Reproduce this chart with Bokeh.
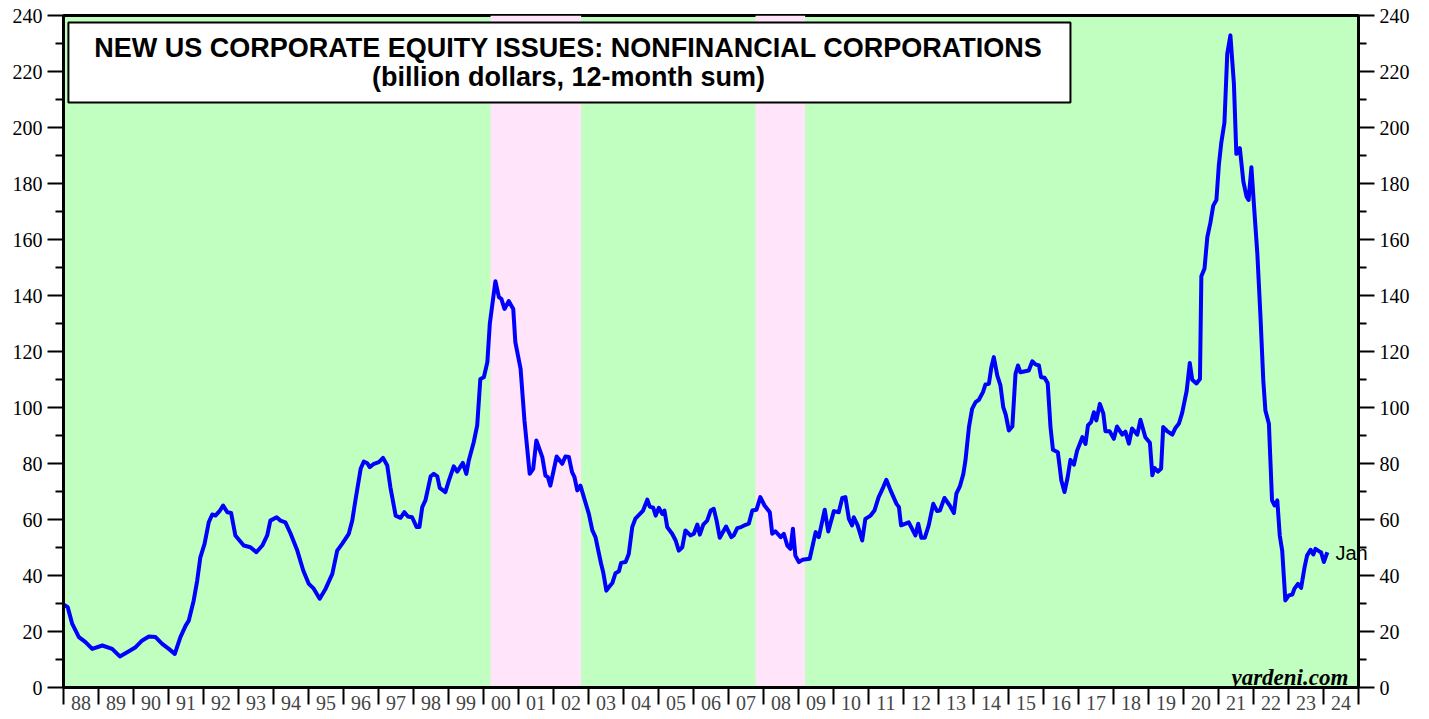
from bokeh.plotting import figure
from bokeh.models import Range1d, LinearAxis, FixedTicker, BoxAnnotation, Label, ColumnDataSource
from bokeh.embed import file_html
from bokeh.resources import INLINE

# ---- data (decimal year, billion dollars 12-month sum) ----
dates = [1988.01, 1988.12, 1988.25, 1988.44, 1988.63, 1988.82, 1989.11, 1989.39, 1989.61, 1989.82,
         1990.06, 1990.25, 1990.44, 1990.63, 1990.82, 1991.01, 1991.18, 1991.34, 1991.49, 1991.58,
         1991.72, 1991.82, 1991.91, 1992.03, 1992.15, 1992.25, 1992.34, 1992.47, 1992.56, 1992.68,
         1992.79, 1992.91, 1993.15, 1993.34, 1993.51, 1993.68, 1993.82, 1993.91, 1994.09, 1994.20,
         1994.34, 1994.49, 1994.68, 1994.85, 1995.01, 1995.15, 1995.32, 1995.49, 1995.68, 1995.82,
         1995.96, 1996.15, 1996.25, 1996.34, 1996.49, 1996.58, 1996.68, 1996.75, 1996.87, 1997.01,
         1997.13, 1997.25, 1997.34, 1997.49, 1997.63, 1997.74, 1997.84, 1997.96, 1998.09, 1998.17,
         1998.25, 1998.34, 1998.49, 1998.58, 1998.68, 1998.75, 1998.91, 1999.01, 1999.15, 1999.25,
         1999.41, 1999.51, 1999.58, 1999.72, 1999.82, 1999.91, 2000.01, 2000.11, 2000.18, 2000.34,
         2000.44, 2000.51, 2000.60, 2000.72, 2000.85, 2000.91, 2001.06, 2001.17, 2001.32, 2001.42,
         2001.51, 2001.68, 2001.77, 2001.84, 2001.91, 2002.09, 2002.25, 2002.34, 2002.44, 2002.53,
         2002.60, 2002.68, 2002.77, 2002.91, 2003.01, 2003.11, 2003.20, 2003.29, 2003.36, 2003.42,
         2003.51, 2003.58, 2003.68, 2003.77, 2003.87, 2003.93, 2004.06, 2004.15, 2004.25, 2004.34,
         2004.47, 2004.56, 2004.68, 2004.75, 2004.85, 2004.92, 2005.01, 2005.11, 2005.17, 2005.25,
         2005.39, 2005.49, 2005.58, 2005.68, 2005.77, 2005.91, 2006.01, 2006.11, 2006.18, 2006.28,
         2006.39, 2006.49, 2006.58, 2006.66, 2006.75, 2006.93, 2007.08, 2007.15, 2007.25, 2007.36,
         2007.49, 2007.58, 2007.68, 2007.80, 2007.91, 2008.03, 2008.18, 2008.25, 2008.34, 2008.49,
         2008.58, 2008.68, 2008.77, 2008.84, 2008.91, 2009.01, 2009.11, 2009.32, 2009.49, 2009.58,
         2009.75, 2009.85, 2010.01, 2010.15, 2010.25, 2010.34, 2010.44, 2010.53, 2010.58, 2010.69,
         2010.82, 2010.91, 2011.06, 2011.17, 2011.29, 2011.42, 2011.51, 2011.63, 2011.80, 2011.87,
         2011.93, 2012.06, 2012.15, 2012.22, 2012.34, 2012.42, 2012.51, 2012.61, 2012.72, 2012.85,
         2012.96, 2013.04, 2013.17, 2013.32, 2013.44, 2013.51, 2013.61, 2013.71, 2013.77, 2013.87,
         2013.96, 2014.06, 2014.15, 2014.27, 2014.34, 2014.44, 2014.51, 2014.58, 2014.68, 2014.77,
         2014.85, 2014.92, 2015.01, 2015.11, 2015.20, 2015.27, 2015.34, 2015.58, 2015.68, 2015.77,
         2015.87, 2015.93, 2016.03, 2016.12, 2016.20, 2016.27, 2016.41, 2016.51, 2016.60, 2016.69,
         2016.77, 2016.87, 2016.96, 2017.11, 2017.20, 2017.27, 2017.36, 2017.44, 2017.51, 2017.61,
         2017.71, 2017.77, 2017.89, 2018.01, 2018.10, 2018.25, 2018.34, 2018.44, 2018.53, 2018.68,
         2018.77, 2018.91, 2019.04, 2019.11, 2019.17, 2019.27, 2019.36, 2019.42, 2019.53, 2019.68,
         2019.77, 2019.87, 2019.96, 2020.09, 2020.18, 2020.25, 2020.37, 2020.47, 2020.51, 2020.60,
         2020.68, 2020.77, 2020.85, 2020.94, 2021.01, 2021.08, 2021.17, 2021.25, 2021.34, 2021.44,
         2021.51, 2021.61, 2021.71, 2021.80, 2021.86, 2021.94, 2022.03, 2022.11, 2022.20, 2022.28,
         2022.34, 2022.44, 2022.53, 2022.60, 2022.68, 2022.75, 2022.82, 2022.91, 2023.01, 2023.11,
         2023.17, 2023.27, 2023.36, 2023.46, 2023.53, 2023.63, 2023.71, 2023.77, 2023.87, 2023.93,
         2024.01, 2024.11]

values = [29.6, 28.7, 22.7, 18.0, 16.2, 13.8, 15.0, 13.8, 11.1, 12.6,
          14.4, 16.8, 18.2, 18.0, 15.6, 13.8, 12.0, 18.0, 22.1, 23.9,
          31.1, 38.2, 46.5, 51.3, 59.0, 61.8, 61.4, 63.2, 65.0, 62.6,
          62.3, 54.3, 50.7, 50.1, 48.3, 50.7, 54.3, 59.6, 60.8, 59.6,
          59.0, 54.9, 48.9, 41.8, 37.0, 35.3, 31.7, 35.3, 40.6, 48.9,
          51.3, 54.9, 59.6, 66.8, 78.1, 80.7, 80.1, 78.7, 79.9, 80.5,
          82.0, 79.3, 71.5, 61.4, 60.6, 62.6, 61.1, 60.8, 57.3, 57.3,
          64.4, 66.8, 75.4, 76.3, 75.4, 71.3, 69.8, 73.9, 79.0, 77.1,
          80.2, 76.3, 81.1, 87.6, 93.6, 110.2, 110.8, 116.2, 129.9, 145.1,
          139.4, 138.8, 135.2, 138.0, 135.2, 123.3, 113.8, 95.4, 76.3, 78.1,
          88.2, 82.3, 75.7, 75.1, 72.1, 82.5, 79.9, 82.5, 82.3, 76.9,
          75.1, 70.4, 72.1, 66.2, 62.0, 56.1, 53.7, 48.3, 44.2, 41.2,
          34.6, 35.8, 37.3, 40.8, 41.5, 44.5, 44.8, 47.7, 57.3, 60.3,
          62.0, 63.2, 67.1, 64.6, 64.2, 61.4, 64.2, 62.0, 63.2, 57.3,
          54.9, 52.5, 48.9, 50.1, 56.1, 54.3, 54.9, 58.2, 54.6, 58.2,
          59.6, 63.2, 63.8, 59.6, 53.5, 57.5, 53.7, 54.3, 56.9, 57.3,
          58.1, 58.5, 63.2, 63.5, 68.0, 65.0, 62.6, 54.9, 55.8, 53.7,
          54.9, 50.7, 49.5, 56.7, 47.1, 44.8, 45.6, 46.0, 55.5, 53.7,
          63.5, 55.7, 63.0, 62.6, 67.7, 68.0, 60.2, 57.9, 60.8, 57.9,
          52.5, 60.2, 61.4, 63.2, 68.0, 71.5, 74.2, 70.4, 65.6, 64.4,
          57.9, 58.5, 59.0, 57.3, 54.3, 58.5, 53.5, 53.5, 57.9, 65.6,
          63.0, 63.2, 67.7, 65.0, 62.3, 69.2, 71.8, 76.3, 81.1, 93.0,
          99.5, 101.9, 102.7, 105.5, 108.2, 108.5, 114.4, 118.0, 111.4, 107.9,
          100.1, 97.5, 91.8, 93.2, 112.0, 115.0, 112.6, 113.2, 116.5, 115.4,
          115.0, 110.8, 110.6, 108.7, 93.0, 84.9, 84.0, 73.9, 69.8, 75.1,
          81.3, 79.6, 84.6, 89.4, 87.0, 93.6, 94.8, 98.3, 95.4, 101.3,
          97.8, 91.5, 91.5, 88.8, 93.2, 90.3, 91.4, 87.1, 92.5, 90.3,
          95.6, 89.4, 87.4, 75.8, 78.4, 77.1, 78.2, 93.0, 91.6, 90.3,
          92.7, 94.3, 98.0, 105.9, 115.9, 109.9, 108.6, 110.2, 146.9, 149.6,
          160.8, 166.1, 172.1, 174.1, 186.6, 194.6, 201.8, 226.3, 232.9, 215.7,
          190.6, 192.6, 180.7, 175.4, 174.1, 185.8, 169.2, 154.9, 132.3, 109.6,
          98.9, 94.2, 66.8, 65.0, 66.8, 54.3, 48.9, 31.1, 32.9, 33.2,
          35.3, 37.0, 35.6, 43.0, 47.1, 49.2, 47.5, 49.5, 48.7, 48.3,
          44.8, 48.3]

# bear-market shading (decimal years)
bear_start = [2000.20, 2007.77]
bear_end = [2002.79, 2009.19]

year_ticks = list(range(1988, 2026))
year_labels = ["88", "89", "90", "91", "92", "93", "94", "95", "96", "97", "98", "99",
               "00", "01", "02", "03", "04", "05", "06", "07", "08", "09", "10", "11",
               "12", "13", "14", "15", "16", "17", "18", "19", "20", "21", "22", "23", "24"]
y_major = list(range(0, 241, 20))
y_minor = list(range(10, 240, 20))

title1 = "NEW US CORPORATE EQUITY ISSUES: NONFINANCIAL CORPORATIONS"
title2 = "(billion dollars, 12-month sum)"
last_label = "Jan"
last_value = 48.2

# ---- figure ----
p = figure(frame_width=1295, frame_height=672,
           x_range=Range1d(1988, 2025), y_range=Range1d(0, 240),
           output_backend="svg", toolbar_location=None,
           x_axis_location=None, y_axis_location=None,
           min_border_left=63, min_border_right=58, min_border_top=15, min_border_bottom=10,
           background_fill_color="#C0FFC0", border_fill_color="white")
p.grid.visible = False
p.outline_line_color = "black"
p.outline_line_width = 3
p.outline_line_alpha = 1.0

serif = "Liberation Serif"

def y_axis():
    ax = LinearAxis(ticker=FixedTicker(ticks=y_major, minor_ticks=y_minor))
    ax.major_tick_out = 16
    ax.major_tick_in = 0
    ax.minor_tick_out = 8
    ax.minor_tick_in = 0
    ax.axis_line_width = 3
    ax.major_tick_line_width = 2
    ax.minor_tick_line_width = 2
    ax.major_label_text_font = serif
    ax.major_label_text_font_size = "20px"
    ax.major_label_text_color = "black"
    ax.major_label_standoff = 5
    return ax

p.add_layout(y_axis(), "left")
p.add_layout(y_axis(), "right")

# outer right axis only carrying the "Jan" end label, pulled back over the frame edge
ja = LinearAxis(ticker=FixedTicker(ticks=[last_value], minor_ticks=[]))
ja.axis_line_color = None
ja.major_tick_line_color = None
ja.major_tick_out = 0
ja.major_tick_in = 0
ja.major_label_overrides = {last_value: last_label}
ja.major_label_text_font = "Liberation Sans"
ja.major_label_text_font_size = "20px"
ja.major_label_text_color = "black"
ja.major_label_standoff = -77
p.add_layout(ja, "right")

# bottom tick marks at year boundaries
xt = LinearAxis(ticker=FixedTicker(ticks=year_ticks, minor_ticks=[]))
xt.major_tick_out = 17
xt.major_tick_in = 0
xt.axis_line_width = 3
xt.major_tick_line_width = 2
xt.major_label_overrides = {t: "" for t in year_ticks}
xt.major_label_text_font_size = "1px"
xt.major_label_standoff = 0
p.add_layout(xt, "below")

# bottom year labels centred in each year
mid_ticks = [y + 0.5 for y in year_ticks[:-1]]
xl = LinearAxis(ticker=FixedTicker(ticks=mid_ticks, minor_ticks=[]))
xl.axis_line_color = None
xl.major_tick_line_color = None
xl.major_tick_out = 0
xl.major_tick_in = 0
xl.major_label_overrides = {m: lab for m, lab in zip(mid_ticks, year_labels)}
xl.major_label_text_font = serif
xl.major_label_text_font_size = "20px"
xl.major_label_standoff = -9
p.add_layout(xl, "below")

# shading
p.quad(left=bear_start, right=bear_end, bottom=0, top=240,
       fill_color="#FFE4FA", line_color=None)

# series line
src = ColumnDataSource(data=dict(x=dates, y=values))
p.line("x", "y", source=src, line_color="#0000FF", line_width=4, line_join="round")

# title box
p.add_layout(BoxAnnotation(left=1988.14, right=2016.77, top=237.5, bottom=208.9,
                           fill_color="white", fill_alpha=1.0,
                           line_color="black", line_alpha=1.0, line_width=2))
p.add_layout(Label(x=2002.43, y=228.3, text=title1, text_align="center", text_baseline="middle",
                   text_font="Liberation Sans", text_font_style="bold", text_font_size="27px",
                   text_color="black"))
p.add_layout(Label(x=2002.43, y=217.9, text=title2, text_align="center", text_baseline="middle",
                   text_font="Liberation Sans", text_font_style="bold", text_font_size="27px",
                   text_color="black"))

p.add_layout(Label(x=2024.71, y=3.4, text="yardeni.com", text_align="right",
                   text_baseline="alphabetic", text_font=serif, text_font_style="bold italic",
                   text_font_size="23px", text_color="black"))

open("out.html", "w").write(file_html(p, INLINE))
